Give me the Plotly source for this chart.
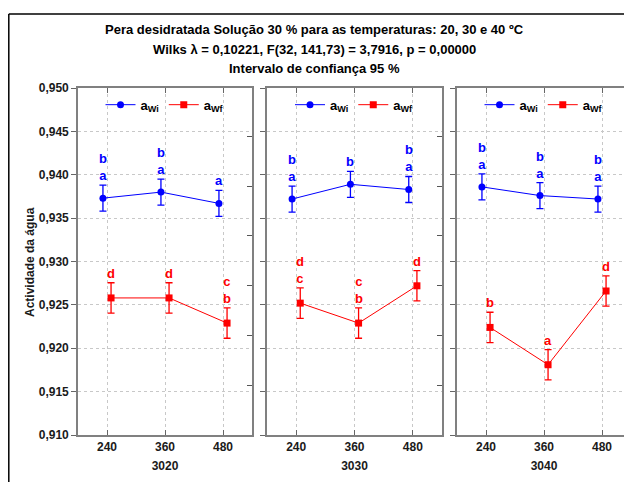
import plotly.graph_objects as go

# ---------------- data ----------------
groups = ["3020", "3030", "3040"]
times = ["240", "360", "480"]

awi_3020 = [0.9373, 0.9380, 0.9367]
awi_3030 = [0.9372, 0.9389, 0.9383]
awi_3040 = [0.9386, 0.9376, 0.9372]
awf_3020 = [0.9258, 0.9258, 0.9229]
awf_3030 = [0.9252, 0.9229, 0.9272]
awf_3040 = [0.9224, 0.9181, 0.9266]

awi_ci = [0.0015, 0.0015, 0.0015]
awf_ci = [0.00175, 0.00175, 0.00175]

awi_letters_3020 = ["b<br>a", "b<br>a", "a"]
awi_letters_3030 = ["b<br>a", "b", "b<br>a"]
awi_letters_3040 = ["b<br>a", "b<br>a", "b<br>a"]
awf_letters_3020 = ["d", "d", "c<br>b"]
awf_letters_3030 = ["d<br>c", "c<br>b", "d"]
awf_letters_3040 = ["b", "a", "d"]

awi = [awi_3020, awi_3030, awi_3040]
awf = [awf_3020, awf_3030, awf_3040]
awi_letters = [awi_letters_3020, awi_letters_3030, awi_letters_3040]
awf_letters = [awf_letters_3020, awf_letters_3030, awf_letters_3040]

title_lines = [
    "Pera desidratada Solução 30 % para as temperaturas: 20, 30 e 40 ºC",
    "Wilks λ = 0,10221, F(32, 141,73) = 3,7916, p = 0,00000",
    "Intervalo de confiança 95 %",
]
y_title = "Actividade da água"

# ---------------- layout constants ----------------
# the page body adds an 8px margin, so the figure is 8px smaller than the window
W, H = 624, 474
ML, MR, MT, MB = 70, 1, 80, 47
PW, PH = W - ML - MR, H - MT - MB
FONT = "Liberation Sans, Arial, sans-serif"
BLUE = "#0000ff"
RED = "#ff0000"
GRID = "#c8c8c8"
FRAME = "#808080"
TXT = "#1a1a1a"

domains = [[0, 174 / PW], [189 / PW, 364 / PW], [379 / PW, 1.0]]
offset = 0.07  # horizontal offset between the two series inside a category

fig = go.Figure()

pos = [i + 0.5 for i in range(len(times))]
legends = ["legend", "legend2", "legend3"]

for p in range(3):
    xa = "x" if p == 0 else f"x{p+1}"
    ya = "y" if p == 0 else f"y{p+1}"
    xi = [v - offset for v in pos]
    xf = [v + offset for v in pos]
    fig.add_trace(go.Scatter(
        x=xi, y=awi[p], mode="lines+markers", name="a<sub>Wi</sub>",
        xaxis=xa, yaxis=ya, legend=legends[p],
        line=dict(color=BLUE, width=1),
        marker=dict(color=BLUE, size=7, symbol="circle"),
        error_y=dict(type="data", array=awi_ci, color=BLUE, thickness=1.3, width=3.5),
    ))
    fig.add_trace(go.Scatter(
        x=xf, y=awf[p], mode="lines+markers", name="a<sub>Wf</sub>",
        xaxis=xa, yaxis=ya, legend=legends[p],
        line=dict(color=RED, width=1),
        marker=dict(color=RED, size=7, symbol="square"),
        error_y=dict(type="data", array=awf_ci, color=RED, thickness=1.3, width=3.5),
    ))
    # significance letters
    for i in range(len(times)):
        fig.add_annotation(
            x=xi[i], y=awi[p][i] + awi_ci[i], xref=xa, yref=ya,
            text=awi_letters[p][i], showarrow=False, yanchor="bottom",
            font=dict(family=FONT, size=13, color=BLUE, weight="bold"),
        )
        fig.add_annotation(
            x=xf[i], y=awf[p][i] + awf_ci[i], xref=xa, yref=ya,
            text=awf_letters[p][i], showarrow=False, yanchor="bottom",
            font=dict(family=FONT, size=13, color=RED, weight="bold"),
        )

# axes
for p in range(3):
    xk = "xaxis" if p == 0 else f"xaxis{p+1}"
    yk = "yaxis" if p == 0 else f"yaxis{p+1}"
    ya = "y" if p == 0 else f"y{p+1}"
    xa = "x" if p == 0 else f"x{p+1}"
    fig.layout[xk] = dict(
        domain=domains[p], anchor=ya, range=[0, 3],
        tickvals=pos, ticktext=times,
        tickfont=dict(family=FONT, size=12, color=TXT, weight="bold"),
        ticks="inside", ticklen=5, tickcolor="#666666",
        showline=True, linecolor=FRAME, linewidth=1.6, mirror="ticks",
        showgrid=True, gridcolor=GRID, griddash="dot", gridwidth=1,
        zeroline=False,
        title=dict(text=groups[p], standoff=8,
                   font=dict(family=FONT, size=12, color=TXT, weight="bold")),
    )
    fig.layout[yk] = dict(
        domain=[0, 1], anchor=xa, range=[0.910, 0.950], dtick=0.005,
        tickformat=".3f", showticklabels=(p == 0),
        tickfont=dict(family=FONT, size=12, color=TXT, weight="bold"),
        ticks="outside", ticklen=5, tickcolor="#666666",
        showline=True, linecolor=FRAME, linewidth=1.6, mirror=True,
        showgrid=True, gridcolor=GRID, griddash="dot", gridwidth=1,
        zeroline=False,
    )

# extra right-hand inner tick scales on the first two panels
for key, ov, anc in [("yaxis4", "y", "x"), ("yaxis5", "y2", "x2")]:
    fig.layout[key] = dict(
        overlaying=ov, anchor=anc, side="right", range=[0, PH / 49.8],
        dtick=1, ticks="inside", ticklen=5, tickcolor="#555555",
        showticklabels=False, showgrid=False, showline=False, zeroline=False,
    )
for ya, xa in [("y4", "x"), ("y5", "x2")]:
    fig.add_trace(go.Scatter(x=[None], y=[None], xaxis=xa, yaxis=ya,
                             showlegend=False, hoverinfo="skip"))

# legends, one per panel
for p in range(3):
    d = domains[p]
    fig.layout[legends[p]] = dict(
        orientation="h", x=(d[0] + d[1]) / 2, xanchor="center",
        y=0.995, yanchor="top", bgcolor="rgba(0,0,0,0)",
        font=dict(family=FONT, size=13, color="#000000", weight="bold"),
        itemwidth=30, tracegroupgap=0,
    )

# titles
title_y_px = [22, 41, 61]
for t, ypx in zip(title_lines, title_y_px):
    fig.add_annotation(
        x=(306 - ML) / PW, y=1 + (MT - ypx) / PH, xref="paper", yref="paper",
        text=t, showarrow=False, xanchor="center", yanchor="middle",
        font=dict(family=FONT, size=13, color="#000000", weight="bold"),
    )

fig.add_annotation(
    x=(22 - ML) / PW, y=(PH + MT - 254) / PH, xref="paper", yref="paper",
    text=y_title, showarrow=False, textangle=-90,
    xanchor="center", yanchor="middle",
    font=dict(family=FONT, size=12, color=TXT, weight="bold"),
)

# outer frame (top and left lines)
top = 1 + (MT - 6) / PH
left = (0.8 - ML) / PW
fig.add_shape(type="line", xref="paper", yref="paper",
              x0=left, x1=(W - ML) / PW, y0=top, y1=top,
              line=dict(color="#000000", width=1.5))
fig.add_shape(type="line", xref="paper", yref="paper",
              x0=left, x1=left, y0=top, y1=-MB / PH,
              line=dict(color="#000000", width=1.5))

fig.update_layout(
    width=W, height=H,
    margin=dict(l=ML, r=MR, t=MT, b=MB, autoexpand=False),
    paper_bgcolor="white", plot_bgcolor="white",
    separators=",.",
    showlegend=True,
    font=dict(family=FONT, color=TXT),
)

fig.write_html("out.html")
